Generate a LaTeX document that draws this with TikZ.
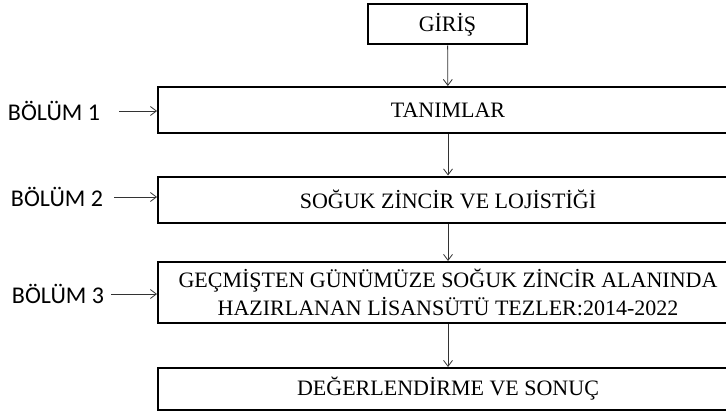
\documentclass[tikz,border=0pt]{standalone}
\usepackage{fontspec}
\setmainfont{Liberation Serif}
\newfontfamily\labelfont{Carlito}
\usetikzlibrary{arrows.meta}

\begin{document}
\begin{tikzpicture}[x=1pt, y=-1pt,
    box/.style={draw, line width=2pt, minimum width=580pt, align=center,
                font=\fontsize{22}{28}\selectfont},
    bolum/.style={inner sep=0pt, font=\labelfont\fontsize{24}{28}\selectfont},
    arr/.style={-{Straight Barb[length=6pt, width=9pt]}, line width=0.8pt, black!80}]
            \useasboundingbox (0,0) rectangle (726,412);
            \clip (0,0) rectangle (726,412);

            % Chapter boxes
            \node[box, minimum width=159pt, minimum height=40pt] (giris) at (447.5,24.5) {GİRİŞ};
            \node[box, minimum height=46pt] (tanim) at (448,110) {TANIMLAR};
            \node[box, minimum height=46pt] (soguk) at (448,199.5) {SOĞUK ZİNCİR VE LOJİSTİĞİ};
            \node[box, minimum height=61pt] (gecmis) at (448,292.5)
                {GEÇMİŞTEN GÜNÜMÜZE SOĞUK ZİNCİR ALANINDA\\HAZIRLANAN LİSANSÜTÜ TEZLER:2014-2022};
            \node[box, minimum height=42pt] (sonuc) at (448,389) {DEĞERLENDİRME VE SONUÇ};

            % Chapter labels
            \node[bolum] (b1) at (54,111) {BÖLÜM 1};
            \node[bolum] (b2) at (57,197) {BÖLÜM 2};
            \node[bolum] (b3) at (58,294) {BÖLÜM 3};

            % Flow down
            \foreach \a/\b in {giris/tanim, tanim/soguk, soguk/gecmis, gecmis/sonuc}
                \draw[arr] (\a) -- (\b);
            % Labels to boxes
            \foreach \l/\t/\s in {b1/tanim/19, b2/soguk/11, b3/gecmis/7}
                \draw[arr] ([xshift=\s pt]\l.east) -- (\l.east -| \t.west);
        \end{tikzpicture}
\end{document}
